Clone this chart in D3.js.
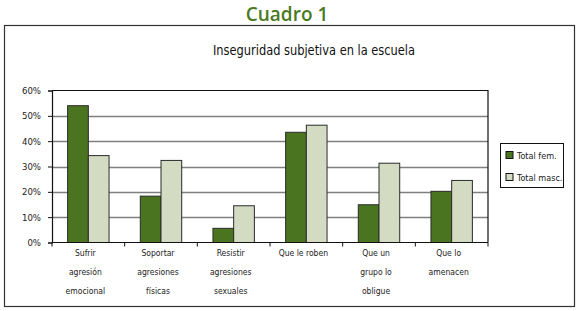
<!DOCTYPE html>
<html>
<head>
<meta charset="utf-8">
<script src="https://cdn.jsdelivr.net/npm/d3@7"></script>
<style>
  body { margin: 0; background: #fff; }
  svg { display: block; }
</style>
</head>
<body>
<svg width="580" height="311"></svg>
<script>
const categories = [
    ["Sufrir", "agresión", "emocional"],
    ["Soportar", "agresiones", "físicas"],
    ["Resistir", "agresiones", "sexuales"],
    ["Que le roben"],
    ["Que un", "grupo lo", "obligue"],
    ["Que lo", "amenacen"]
];
const seriesNames = ["Total fem.", "Total masc."];
const totalFem = [54, 18.3, 5.6, 43.5, 14.9, 20.2];
const totalMasc = [34.3, 32.4, 14.5, 46.3, 31.3, 24.5];
const yTicks = [0, 10, 20, 30, 40, 50, 60];
const colors = ["#4b7420", "#d3dcc3"];

const svg = d3.select("svg");
const attr_area = { left: 52, right: 488, top: 90.5, bottom: 242.5 };
const labelFont = "'DejaVu Sans Condensed', sans-serif";

// page title and frame
svg.append("text")
    .attr("x", 287).attr("y", 21)
    .attr("text-anchor", "middle")
    .style("font-family", "'Open Sans', sans-serif")
    .style("font-weight", 600)
    .style("font-size", "19px")
    .style("fill", "#4a7a1e")
    .text("Cuadro 1");

svg.append("rect")
    .attr("x", 4.5).attr("y", 25.5)
    .attr("width", 570).attr("height", 281)
    .attr("fill", "none")
    .attr("stroke", "#333")
    .attr("stroke-width", 1.2);

svg.append("text")
    .attr("x", 213).attr("y", 55)
    .attr("textLength", 202)
    .attr("lengthAdjust", "spacingAndGlyphs")
    .style("font-family", labelFont)
    .style("font-size", "14px")
    .style("fill", "#111")
    .text("Inseguridad subjetiva en la escuela");

const data = categories.map((c, i) => ({ label: c, values: [totalFem[i], totalMasc[i]] }));

const scaleX = d3.scaleBand()
    .domain(d3.range(categories.length))
    .range([attr_area.left, attr_area.right]);
const bw = scaleX.bandwidth();
const scaleX1 = d3.scaleBand()
    .domain(d3.range(seriesNames.length))
    .range([bw * 0.215, bw * 0.785]);
const scaleY = d3.scaleLinear()
    .domain([0, 60])
    .range([attr_area.bottom, attr_area.top]);

// gridlines
svg.append("g")
    .selectAll("line")
    .data(yTicks.filter(t => t > 0 && t < 60))
    .enter()
    .append("line")
    .attr("x1", attr_area.left).attr("x2", attr_area.right)
    .attr("y1", d => Math.round(scaleY(d)) + 0.5)
    .attr("y2", d => Math.round(scaleY(d)) + 0.5)
    .attr("stroke", "#7f7f7f")
    .attr("stroke-width", 1.5);

// plot frame (top and right)
svg.append("path")
    .attr("d", `M${attr_area.left},${attr_area.top}H${attr_area.right}V${attr_area.bottom}`)
    .attr("fill", "none")
    .attr("stroke", "#111")
    .attr("stroke-width", 1.2);

// bars
const g = svg.append("g");
data.forEach((d, i) => {
    d.values.forEach((v, j) => {
        g.append("rect")
            .attr("x", scaleX(i) + scaleX1(j))
            .attr("y", scaleY(v))
            .attr("width", scaleX1.bandwidth())
            .attr("height", scaleY(0) - scaleY(v))
            .attr("fill", colors[j])
            .attr("stroke", "#2a2a2a")
            .attr("stroke-width", 1);
    });
});

// y axis
const axisY = d3.axisLeft(scaleY)
    .tickValues(yTicks)
    .tickSize(4)
    .tickFormat(d => d + "%");
const gy = svg.append("g")
    .attr("transform", `translate(${attr_area.left}, 0)`)
    .call(axisY);
gy.select(".domain").attr("stroke", "#111").attr("stroke-width", 1.2);
gy.selectAll(".tick line").attr("stroke", "#111");
gy.selectAll(".tick text")
    .attr("x", -11)
    .style("font-family", labelFont)
    .style("font-size", "9.5px")
    .style("fill", "#222");

// x axis: baseline and boundary ticks
const gx = svg.append("g");
gx.append("line")
    .attr("x1", attr_area.left).attr("x2", attr_area.right)
    .attr("y1", attr_area.bottom).attr("y2", attr_area.bottom)
    .attr("stroke", "#111").attr("stroke-width", 1.2);
gx.selectAll(".xtick")
    .data(d3.range(categories.length + 1))
    .enter()
    .append("line")
    .attr("x1", i => i < categories.length ? scaleX(i) : attr_area.right)
    .attr("x2", i => i < categories.length ? scaleX(i) : attr_area.right)
    .attr("y1", attr_area.bottom).attr("y2", attr_area.bottom + 4)
    .attr("stroke", "#111");

const labels = gx.selectAll(".xlabel")
    .data(data)
    .enter()
    .append("text")
    .attr("text-anchor", "middle")
    .attr("x", (d, i) => scaleX(i) + bw / 2 - 3)
    .attr("y", 256)
    .style("font-family", labelFont)
    .style("font-size", "8.5px")
    .style("fill", "#222");
labels.selectAll("tspan")
    .data(d => d.label)
    .enter()
    .append("tspan")
    .attr("x", function () { return d3.select(this.parentNode).attr("x"); })
    .attr("dy", (d, k) => k === 0 ? 0 : 19)
    .text(d => d);

// legend
const lg = svg.append("g");
lg.append("rect")
    .attr("x", 500.5).attr("y", 143.5)
    .attr("width", 63).attr("height", 44)
    .attr("fill", "#fff")
    .attr("stroke", "#111");
seriesNames.forEach((name, j) => {
    const cy = 155 + j * 22;
    lg.append("rect")
        .attr("x", 506).attr("y", cy - 3.5)
        .attr("width", 7).attr("height", 7)
        .attr("fill", colors[j])
        .attr("stroke", "#111");
    lg.append("text")
        .attr("x", 517).attr("y", cy + 3.5)
        .style("font-family", labelFont)
        .style("font-size", "9px")
        .style("fill", "#222")
        .text(name);
});
</script>
</body>
</html>
